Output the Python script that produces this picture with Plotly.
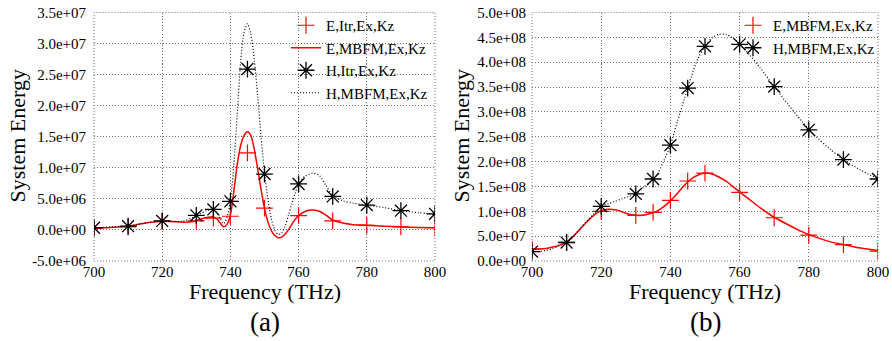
import plotly.graph_objects as go

# ---------------- data ----------------
freq_pts = [700, 710, 720, 730, 735, 740, 745, 750, 760, 770, 780, 790, 800]

# panel (a): iterative (markers), values in units of 1e6
E_itr_a = [0.3, 0.5, 1.4, 1.45, 1.9, 2.2, 12.4, 3.5, 2.3, 1.45, 0.75, 0.5, 0.35]
H_itr_a = [0.35, 0.6, 1.45, 2.35, 3.3, 4.6, 25.9, 9.0, 7.4, 5.4, 4.0, 3.1, 2.6]

# panel (a): MBFM curves
freq_mbfm_a = [700, 703, 706, 710, 713, 716, 720, 723, 726, 729, 731, 733, 735, 736, 737,
               738, 739, 740, 741, 742, 743, 744, 745, 746, 747, 748, 749, 750, 751, 752,
               753, 754, 755, 756, 757, 758, 759, 760, 762, 764, 766, 768, 770, 773, 776,
               780, 785, 790, 795, 800]
E_mbfm_a = [0.3, 0.35, 0.45, 0.6, 0.9, 1.2, 1.4, 1.35, 1.25, 1.35, 1.7, 2.0, 2.1, 1.8, 1.1,
            0.5, 0.9, 2.4, 6.2, 10.5, 13.6, 15.2, 15.8, 15.2, 13.0, 9.8, 6.5, 3.5, 1.3, -0.1,
            -0.9, -1.25, -1.15, -0.7, 0.0, 0.9, 1.7, 2.3, 3.0, 3.2, 3.0, 2.4, 1.6, 1.1, 0.85,
            0.75, 0.6, 0.5, 0.4, 0.35]
H_mbfm_a = [0.35, 0.4, 0.5, 0.6, 0.9, 1.2, 1.4, 1.35, 1.4, 2.0, 2.6, 3.1, 3.3, 2.9, 1.8,
            1.0, 2.0, 4.6, 10.5, 18.5, 27.0, 31.8, 33.2, 31.5, 27.5, 21.5, 15.0, 9.2, 5.0, 1.8,
            0.0, -0.7, -0.5, 0.6, 2.3, 4.2, 5.9, 7.4, 8.7, 9.1, 8.8, 7.2, 5.5, 4.7, 4.3,
            4.0, 3.6, 3.1, 2.8, 2.5]

# panel (b): MBFM markers, values in units of 1e6
E_pts_b = [24, 38, 100, 92, 98, 122, 161, 177, 138, 87, 52, 33, 20]
H_pts_b = [19, 37, 110, 135, 165, 233, 348, 432, 436, 351, 264, 204, 165]

# panel (b): MBFM curves
freq_mbfm_b = [700, 702, 704, 706, 708, 710, 712, 714, 716, 718, 720, 722, 724, 726, 728,
               730, 732, 734, 736, 738, 740, 742, 744, 746, 748, 750, 752, 754, 756, 758,
               760, 763, 766, 770, 774, 778, 782, 786, 790, 795, 800]
E_mbfm_b = [24, 24, 25, 28, 32, 38, 50, 65, 80, 93, 101, 104, 103, 99, 94,
            92, 92, 95, 100, 109, 121, 136, 152, 165, 173, 177, 175, 169, 161, 150,
            139, 123, 107, 88, 73, 59, 48, 39, 33, 26, 21]
H_mbfm_b = [19, 19, 21, 25, 31, 37, 50, 66, 81, 96, 110, 115, 120, 125, 130,
            135, 147, 158, 172, 200, 233, 280, 325, 370, 408, 432, 449, 456, 456, 449,
            436, 414, 388, 351, 315, 281, 251, 226, 204, 183, 165]

x_ticks = [700, 720, 740, 760, 780, 800]
y_ticks_a = [-5e6, 0, 5e6, 1e7, 1.5e7, 2e7, 2.5e7, 3e7, 3.5e7]
y_text_a = ["-5.0e+06", "0.0e+00", "5.0e+06", "1.0e+07", "1.5e+07", "2.0e+07",
            "2.5e+07", "3.0e+07", "3.5e+07"]
y_ticks_b = [i * 5e7 for i in range(11)]
y_text_b = ["0.0e+00", "5.0e+07", "1.0e+08", "1.5e+08", "2.0e+08", "2.5e+08",
            "3.0e+08", "3.5e+08", "4.0e+08", "4.5e+08", "5.0e+08"]

SCALE = 1e6
FONT = "Liberation Serif, Times New Roman, DejaVu Serif, serif"
W, H = 892, 341
RED = "#ff0000"
GRID = "#707070"
DOT = "1px,2px"


def sc(v):
    return [x * SCALE for x in v]


fig = go.Figure()

# ---- panel (a)
fig.add_trace(go.Scatter(x=freq_pts, y=sc(E_itr_a), mode="markers", name="E,Itr,Ex,Kz",
                         marker=dict(symbol="cross-thin", size=12, line=dict(color=RED, width=1.2)),
                         xaxis="x", yaxis="y", legend="legend"))
fig.add_trace(go.Scatter(x=freq_mbfm_a, y=sc(E_mbfm_a), mode="lines", name="E,MBFM,Ex,Kz",
                         line=dict(color=RED, width=1.5, shape="spline", smoothing=0.8),
                         xaxis="x", yaxis="y", legend="legend"))
fig.add_trace(go.Scatter(x=freq_pts, y=sc(H_itr_a), mode="markers", name="H,Itr,Ex,Kz",
                         marker=dict(symbol="asterisk", size=14, line=dict(color="black", width=1.3)),
                         xaxis="x", yaxis="y", legend="legend"))
fig.add_trace(go.Scatter(x=freq_mbfm_a, y=sc(H_mbfm_a), mode="lines", name="H,MBFM,Ex,Kz",
                         line=dict(color="black", width=1.2, dash=DOT, shape="spline", smoothing=0.8),
                         xaxis="x", yaxis="y", legend="legend"))

# ---- panel (b)
fig.add_trace(go.Scatter(x=freq_mbfm_b, y=sc(E_mbfm_b), mode="lines", showlegend=False,
                         line=dict(color=RED, width=1.5, shape="spline", smoothing=0.8),
                         xaxis="x2", yaxis="y2"))
fig.add_trace(go.Scatter(x=freq_mbfm_b, y=sc(H_mbfm_b), mode="lines", showlegend=False,
                         line=dict(color="black", width=1.2, dash=DOT, shape="spline", smoothing=0.8),
                         xaxis="x2", yaxis="y2"))
fig.add_trace(go.Scatter(x=freq_pts, y=sc(E_pts_b), mode="markers", name="E,MBFM,Ex,Kz",
                         marker=dict(symbol="cross-thin", size=12, line=dict(color=RED, width=1.2)),
                         xaxis="x2", yaxis="y2", legend="legend2"))
fig.add_trace(go.Scatter(x=freq_pts, y=sc(H_pts_b), mode="markers", name="H,MBFM,Ex,Kz",
                         marker=dict(symbol="asterisk", size=14, line=dict(color="black", width=1.3)),
                         xaxis="x2", yaxis="y2", legend="legend2"))

top_px, bot_px = 12.5, 261
ydom = [(H - bot_px) / H, (H - top_px) / H]
xdom_a = [94 / W, 435 / W]
xdom_b = [532 / W, 878 / W]

axis_common = dict(showgrid=True, gridcolor=GRID, griddash=DOT, gridwidth=1,
                   zeroline=False, showline=False, ticks="", automargin=False,
                   tickfont=dict(family=FONT, size=15, color="black"))

fig.update_layout(
    width=W, height=H,
    margin=dict(l=0, r=0, t=0, b=0),
    paper_bgcolor="white", plot_bgcolor="white",
    font=dict(family=FONT, size=15, color="black"),
    xaxis=dict(domain=xdom_a, range=[700, 800], tickvals=x_ticks, anchor="y",
               ticklabelstandoff=0, **axis_common),
    yaxis=dict(domain=ydom, range=[-5e6, 3.5e7], tickvals=y_ticks_a, ticktext=y_text_a,
               anchor="x", ticklabelstandoff=7, **axis_common),
    xaxis2=dict(domain=xdom_b, range=[700, 800], tickvals=x_ticks, anchor="y2",
                ticklabelstandoff=0, **axis_common),
    yaxis2=dict(domain=ydom, range=[0, 5e8], tickvals=y_ticks_b, ticktext=y_text_b,
                anchor="x2", ticklabelstandoff=5, **axis_common),
    legend=dict(x=433 / W, xanchor="right", y=(H - 9) / H, yanchor="top",
                bgcolor="rgba(0,0,0,0)", font=dict(family=FONT, size=15),
                tracegroupgap=0, itemwidth=30),
    legend2=dict(x=880 / W, xanchor="right", y=(H - 9) / H, yanchor="top",
                 bgcolor="rgba(0,0,0,0)", font=dict(family=FONT, size=15),
                 tracegroupgap=0, itemwidth=30),
)

# dotted frames around plot areas
for xr, yr in (("x", "y"), ("x2", "y2")):
    fig.add_shape(type="rect", xref=f"{xr} domain", yref=f"{yr} domain", x0=0, x1=1, y0=0, y1=1,
                  line=dict(color=GRID, width=1, dash=DOT), layer="below")

ann = []
for cx, lab in (((94 + 435) / 2, "(a)"), ((532 + 878) / 2, "(b)")):
    ann.append(dict(text="Frequency (THz)", x=cx / W, y=(H - 291) / H, xref="paper", yref="paper",
                    showarrow=False, xanchor="center", yanchor="middle",
                    font=dict(family=FONT, size=22, color="black")))
    ann.append(dict(text=lab, x=cx / W, y=(H - 322) / H, xref="paper", yref="paper",
                    showarrow=False, xanchor="center", yanchor="middle",
                    font=dict(family=FONT, size=27, color="black")))
for cx in (17, 461):
    ann.append(dict(text="System Energy", x=cx / W, y=(H - 136.5) / H, xref="paper", yref="paper",
                    showarrow=False, textangle=-90, xanchor="center", yanchor="middle",
                    font=dict(family=FONT, size=22, color="black")))
fig.update_layout(annotations=ann)

fig.write_html("out.html")
